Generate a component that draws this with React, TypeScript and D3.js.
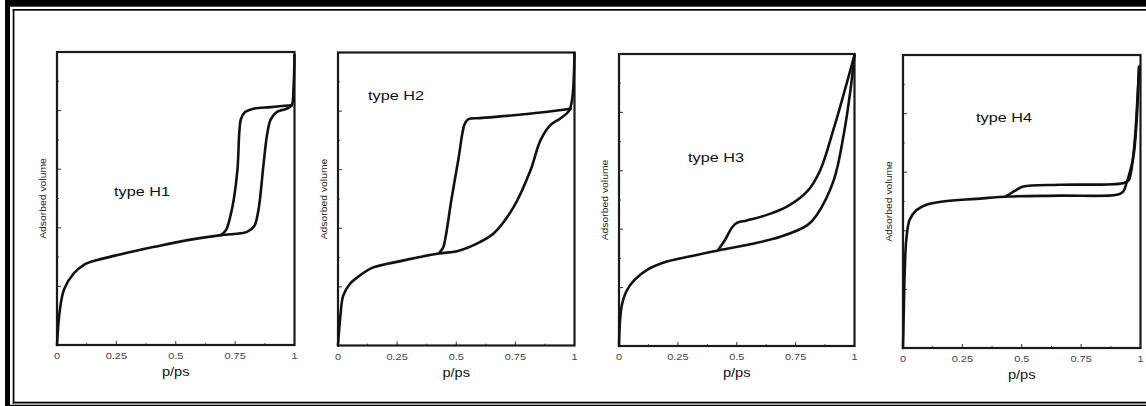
import React from 'react';
import * as d3 from 'd3';

// hysteresis loop types (IUPAC), y normalised 0..1
const panelTitles = ['type H1', 'type H2', 'type H3', 'type H4'];

const h1Adsorption: [number, number][] = [
  [0, 0], [0.012, 0.12], [0.03, 0.19], [0.07, 0.244], [0.112, 0.273], [0.17, 0.29],
  [0.27, 0.31], [0.41, 0.335], [0.55, 0.358], [0.69, 0.375], [0.8, 0.386], [0.83, 0.405],
  [0.848, 0.46], [0.87, 0.62], [0.885, 0.72], [0.9, 0.77], [0.925, 0.795], [0.965, 0.806],
  [0.988, 0.818], [0.996, 0.88], [1.0, 0.99],
];
const h1Desorption: [number, number][] = [
  [0.988, 0.818], [0.9, 0.812], [0.82, 0.805], [0.792, 0.795], [0.775, 0.772], [0.768, 0.73],
  [0.76, 0.6], [0.745, 0.5], [0.73, 0.44], [0.712, 0.393], [0.69, 0.375],
];

const h2Adsorption: [number, number][] = [
  [0, 0], [0.01, 0.1], [0.022, 0.17], [0.05, 0.21], [0.094, 0.24], [0.144, 0.265],
  [0.264, 0.288], [0.426, 0.314], [0.504, 0.322], [0.6, 0.353], [0.66, 0.384], [0.743, 0.473],
  [0.814, 0.598], [0.856, 0.7], [0.898, 0.752], [0.94, 0.775], [0.976, 0.8], [0.99, 0.84],
  [1.0, 0.998],
];
const h2Desorption: [number, number][] = [
  [0.985, 0.808], [0.8, 0.79], [0.6, 0.776], [0.55, 0.772], [0.535, 0.755], [0.525, 0.72],
  [0.51, 0.64], [0.48, 0.5], [0.455, 0.37], [0.445, 0.335], [0.43, 0.318],
];

const h3Adsorption: [number, number][] = [
  [0, 0], [0.011, 0.135], [0.033, 0.19], [0.068, 0.228], [0.118, 0.26], [0.203, 0.289],
  [0.33, 0.312], [0.43, 0.329], [0.543, 0.346], [0.685, 0.374], [0.8, 0.414], [0.84, 0.449],
  [0.912, 0.568], [0.955, 0.728], [0.983, 0.877], [1.0, 0.997],
];
const h3Desorption: [number, number][] = [
  [1.0, 0.997], [0.955, 0.865], [0.912, 0.745], [0.855, 0.603], [0.8, 0.53], [0.713, 0.477],
  [0.628, 0.449], [0.543, 0.43], [0.5, 0.422], [0.479, 0.405], [0.45, 0.363], [0.423, 0.331],
];

const h4Adsorption: [number, number][] = [
  [0, 0], [0.004, 0.15], [0.007, 0.256], [0.014, 0.37], [0.028, 0.4375], [0.056, 0.47],
  [0.098, 0.489], [0.169, 0.5], [0.309, 0.509], [0.449, 0.517], [0.66, 0.52], [0.9, 0.523],
  [0.927, 0.534], [0.941, 0.5625], [0.97, 0.653], [0.983, 0.767], [0.99, 0.88], [0.994, 0.96],
];
const h4Desorption: [number, number][] = [
  [0.994, 0.96], [0.975, 0.7], [0.96, 0.6], [0.95, 0.572], [0.927, 0.5625], [0.66, 0.557],
  [0.506, 0.551], [0.47, 0.536], [0.449, 0.525], [0.435, 0.519],
];

const branches = [
  [h1Adsorption, h1Desorption],
  [h2Adsorption, h2Desorption],
  [h3Adsorption, h3Desorption],
  [h4Adsorption, h4Desorption],
];

const xTicks = [0, 0.25, 0.5, 0.75, 1];
const xTickLabels = ['0', '0.25', '0.5', '0.75', '1'];
const xMinorTicks = [0.125, 0.375, 0.625, 0.875];
const yMajorTicks = [0.2, 0.4, 0.6, 0.8];
const yMinorTicks = [0.1, 0.3, 0.5, 0.7, 0.9];

const xLabel = 'p/ps';
const yLabel = 'Adsorbed volume';

// layout of the four boxes on the page
const boxes = [
  { x0: 57, x1: 294.5, y0: 52, y1: 345 },
  { x0: 338, x1: 574.5, y0: 52.5, y1: 345.5 },
  { x0: 619, x1: 854.5, y0: 54, y1: 346 },
  { x0: 903, x1: 1140.5, y0: 55, y1: 348 },
];
const titlePos = [
  { x: 114, y: 196 },
  { x: 368, y: 100 },
  { x: 688, y: 161.5 },
  { x: 976, y: 121.5 },
];

const FONT = 'Liberation Sans, Arial, sans-serif';
const INK = '#111';

const Panel = ({ i }: { i: number }) => {
  const b = boxes[i];
  const x = d3.scaleLinear().domain([0, 1]).range([b.x0, b.x1]);
  const y = d3.scaleLinear().domain([0, 1]).range([b.y1, b.y0]);
  const line = d3.line<[number, number]>()
    .x(d => x(d[0]))
    .y(d => y(d[1]))
    .curve(d3.curveCatmullRom.alpha(0.5));
  const midX = (b.x0 + b.x1) / 2;
  const midY = (b.y0 + b.y1) / 2;

  return (
    <g>
      {/* inward ticks */}
      {xTicks.slice(1, -1).map(t => (
        <line key={'xM' + t} x1={x(t)} x2={x(t)} y1={b.y1} y2={b.y1 - 4} stroke="#333" strokeWidth={1} />
      ))}
      {xMinorTicks.map(t => (
        <line key={'xm' + t} x1={x(t)} x2={x(t)} y1={b.y1} y2={b.y1 - 2} stroke="#555" strokeWidth={1} />
      ))}
      {yMajorTicks.map(t => (
        <line key={'yM' + t} x1={b.x0} x2={b.x0 + 4} y1={y(t)} y2={y(t)} stroke="#333" strokeWidth={1} />
      ))}
      {yMinorTicks.map(t => (
        <line key={'ym' + t} x1={b.x0} x2={b.x0 + 2} y1={y(t)} y2={y(t)} stroke="#555" strokeWidth={1} />
      ))}

      <rect x={b.x0} y={b.y0} width={b.x1 - b.x0} height={b.y1 - b.y0}
        fill="none" stroke="#1a1a1a" strokeWidth={2.2} />

      {branches[i].map((br, k) => (
        <path key={k} d={line(br) || ''} fill="none" stroke={INK} strokeWidth={2.6}
          strokeLinejoin="round" strokeLinecap="round" />
      ))}

      {xTicks.map((t, k) => (
        <text key={'xl' + t} transform={`translate(${x(t)},${b.y1 + 14}) scale(1.22,1)`}
          textAnchor="middle" fontFamily={FONT} fontSize={9} fill="#444">
          {xTickLabels[k]}
        </text>
      ))}
      <text transform={`translate(${midX},${b.y1 + 31}) scale(1.22,1)`} textAnchor="middle"
        fontFamily={FONT} fontSize={12} fill={INK}>
        {xLabel}
      </text>
      <text transform={`translate(${b.x0 - 11},${midY}) rotate(-90) scale(1.22,1)`} textAnchor="middle"
        fontFamily={FONT} fontSize={8.5} fill="#222">
        {yLabel}
      </text>
      <text x={titlePos[i].x} y={titlePos[i].y} fontFamily={FONT} fontSize={13.5}
        textLength={56} lengthAdjust="spacingAndGlyphs" fill={INK}>
        {panelTitles[i]}
      </text>
    </g>
  );
};

export default function App() {
  const W = 1146;
  const H = 406;
  return (
    <svg width={W} height={H} style={{ position: 'absolute', left: 0, top: 0, background: '#fff' }}>
      <rect x={0} y={0} width={W} height={H} fill="#fff" />
      {/* double frame of the scanned figure */}
      <rect x={5} y={0} width={W - 5} height={6.7} fill="#000" />
      <rect x={5} y={0} width={5} height={H} fill="#000" />
      <rect x={5} y={404.7} width={W - 5} height={2} fill="#000" />
      <rect x={12.7} y={9} width={W - 12.7} height={1.7} fill="#000" />
      <rect x={12.7} y={9} width={1.7} height={394.5} fill="#000" />
      <rect x={12.7} y={401.7} width={W - 12.7} height={1.8} fill="#000" />
      {panelTitles.map((_, i) => <Panel key={i} i={i} />)}
    </svg>
  );
}
